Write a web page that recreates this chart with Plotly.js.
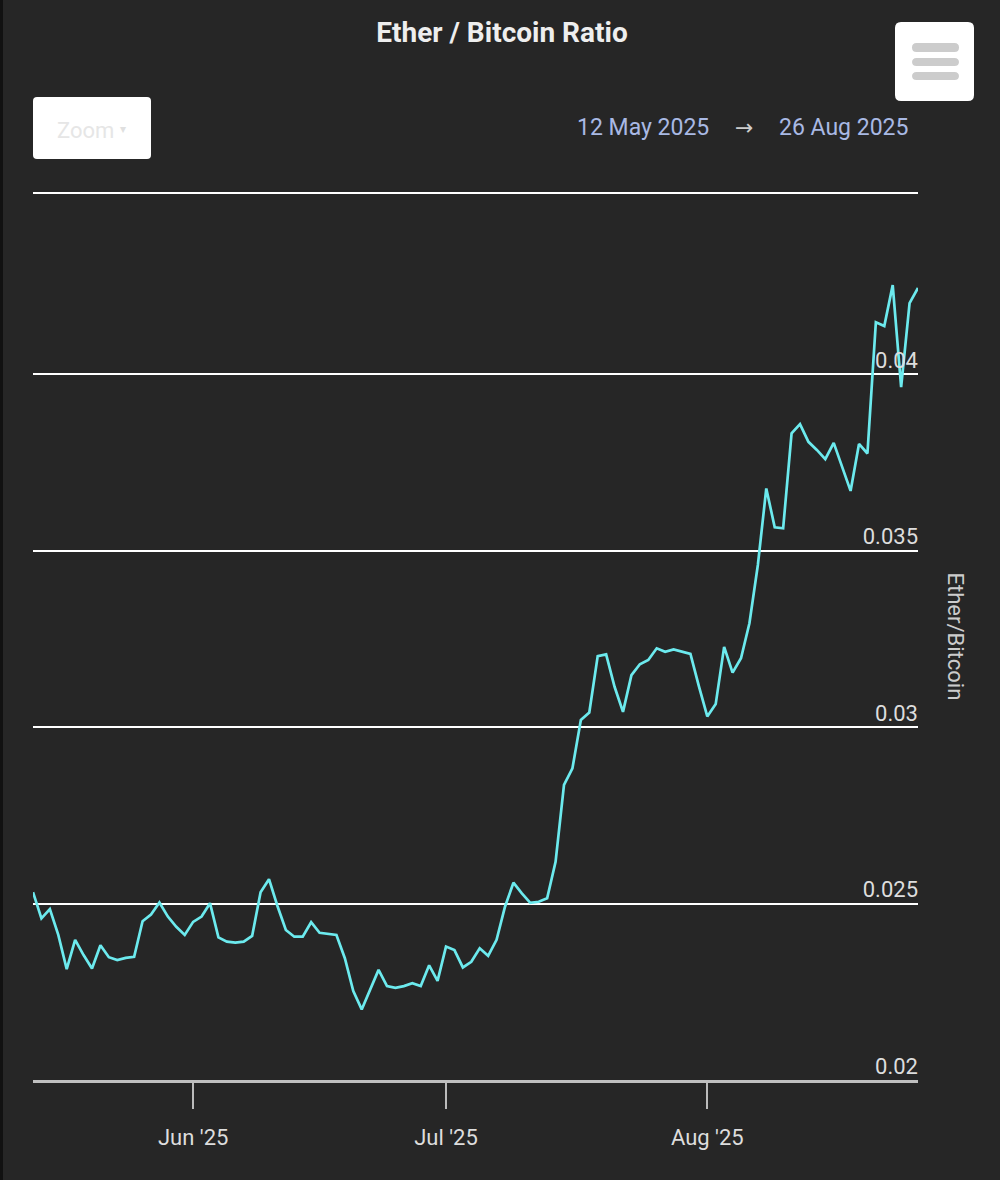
<!DOCTYPE html>
<html>
<head>
<meta charset="utf-8">
<script src="https://cdn.plot.ly/plotly-3.0.1.min.js"></script>
<style>
  html, body { margin: 0; padding: 0; background: #262626; }
  #chart { width: 1000px; height: 1180px; }
</style>
</head>
<body>
<div id="chart"></div>
<script>
// ---- data ----
const dates = [
  "2025-05-13","2025-05-14","2025-05-15","2025-05-16","2025-05-17","2025-05-18","2025-05-19","2025-05-20","2025-05-21","2025-05-22",
  "2025-05-23","2025-05-24","2025-05-25","2025-05-26","2025-05-27","2025-05-28","2025-05-29","2025-05-30","2025-05-31","2025-06-01",
  "2025-06-02","2025-06-03","2025-06-04","2025-06-05","2025-06-06","2025-06-07","2025-06-08","2025-06-09","2025-06-10","2025-06-11",
  "2025-06-12","2025-06-13","2025-06-14","2025-06-15","2025-06-16","2025-06-17","2025-06-18","2025-06-19","2025-06-20","2025-06-21",
  "2025-06-22","2025-06-23","2025-06-24","2025-06-25","2025-06-26","2025-06-27","2025-06-28","2025-06-29","2025-06-30","2025-07-01",
  "2025-07-02","2025-07-03","2025-07-04","2025-07-05","2025-07-06","2025-07-07","2025-07-08","2025-07-09","2025-07-10","2025-07-11",
  "2025-07-12","2025-07-13","2025-07-14","2025-07-15","2025-07-16","2025-07-17","2025-07-18","2025-07-19","2025-07-20","2025-07-21",
  "2025-07-22","2025-07-23","2025-07-24","2025-07-25","2025-07-26","2025-07-27","2025-07-28","2025-07-29","2025-07-30","2025-07-31",
  "2025-08-01","2025-08-02","2025-08-03","2025-08-04","2025-08-05","2025-08-06","2025-08-07","2025-08-08","2025-08-09","2025-08-10",
  "2025-08-11","2025-08-12","2025-08-13","2025-08-14","2025-08-15","2025-08-16","2025-08-17","2025-08-18","2025-08-19","2025-08-20",
  "2025-08-21","2025-08-22","2025-08-23","2025-08-24","2025-08-25","2025-08-26"
];
const ethBtc = [
  0.02532, 0.02458, 0.02484, 0.02411, 0.02314, 0.02397, 0.02354, 0.02316, 0.02382, 0.02348,
  0.02340, 0.02346, 0.02349, 0.02450, 0.02469, 0.02503, 0.02463, 0.02434, 0.02411, 0.02448,
  0.02463, 0.02501, 0.02404, 0.02392, 0.02389, 0.02392, 0.02408, 0.02532, 0.02569, 0.02493,
  0.02425, 0.02406, 0.02406, 0.02447, 0.02417, 0.02413, 0.02411, 0.02345, 0.02252, 0.02200,
  0.02258, 0.02312, 0.02266, 0.02261, 0.02266, 0.02274, 0.02266, 0.02325, 0.02281, 0.02378,
  0.02368, 0.02319, 0.02335, 0.02373, 0.02352, 0.02397, 0.02491, 0.02559, 0.02529, 0.02502,
  0.02505, 0.02515, 0.02618, 0.02836, 0.02883, 0.03020, 0.03041, 0.03201, 0.03206, 0.03114,
  0.03043, 0.03147, 0.03178, 0.03190, 0.03223, 0.03213, 0.03220, 0.03213, 0.03207, 0.03116,
  0.03030, 0.03065, 0.03227, 0.03154, 0.03195, 0.03294, 0.03459, 0.03676, 0.03566, 0.03563,
  0.03832, 0.03858, 0.03808, 0.03785, 0.03759, 0.03805, 0.03737, 0.03669, 0.03802, 0.03775,
  0.04147, 0.04136, 0.04252, 0.03963, 0.04201, 0.04244
];
const xTickVals = ["2025-06-01", "2025-07-01", "2025-08-01"];
const xTickText = ["Jun '25", "Jul '25", "Aug '25"];
const yTickVals = [0.02, 0.025, 0.03, 0.035, 0.04];
const yTickText = ["0.02", "0.025", "0.03", "0.035", "0.04"];
const rangeFrom = "12 May 2025";
const rangeTo = "26 Aug 2025";

// ---- layout helpers (pixel-based UI decorations) ----
const PL = 33, PR = 918, PT = 193, PB = 1080;
const PW = PR - PL, PH = PB - PT;
function px(x) { return (x - PL) / PW; }
function py(y) { return (PB - y) / PH; }
// rounded rect in image pixel coords -> path relative to anchor (paper 0,1 = px 33,193)
function rr(x0, y0, x1, y1, r) {
  const X = v => (v - PL).toFixed(1), Y = v => (PT - v).toFixed(1);
  return `M${X(x0 + r)},${Y(y0)} L${X(x1 - r)},${Y(y0)} Q${X(x1)},${Y(y0)} ${X(x1)},${Y(y0 + r)} ` +
         `L${X(x1)},${Y(y1 - r)} Q${X(x1)},${Y(y1)} ${X(x1 - r)},${Y(y1)} ` +
         `L${X(x0 + r)},${Y(y1)} Q${X(x0)},${Y(y1)} ${X(x0)},${Y(y1 - r)} ` +
         `L${X(x0)},${Y(y0 + r)} Q${X(x0)},${Y(y0)} ${X(x0 + r)},${Y(y0)} Z`;
}
function pshape(path, color) {
  return { type: 'path', xref: 'paper', yref: 'paper', xsizemode: 'pixel', ysizemode: 'pixel',
           xanchor: 0, yanchor: 1, path: path, fillcolor: color, line: { width: 0 }, layer: 'above' };
}

const FONT = 'Roboto, "Open Sans", sans-serif';

const trace = {
  type: 'scatter', mode: 'lines', x: dates, y: ethBtc,
  line: { color: '#6ceaee', width: 2.7 },
  hoverinfo: 'x+y'
};

const layout = {
  width: 1000, height: 1180,
  paper_bgcolor: '#262626', plot_bgcolor: '#262626',
  margin: { l: PL, r: 1000 - PR, t: PT, b: 1180 - PB, pad: 0 },
  showlegend: false,
  font: { family: FONT, color: '#dddddd' },
  title: {
    text: '<b>Ether / Bitcoin Ratio</b>',
    font: { family: FONT, size: 28, color: '#eeeeee' },
    xref: 'container', yref: 'container', x: 0.502, y: 1 - 32 / 1180,
    xanchor: 'center', yanchor: 'middle'
  },
  xaxis: {
    type: 'date', range: ['2025-05-13', '2025-08-26'],
    tickvals: xTickVals, ticktext: xTickText,
    ticks: 'outside', ticklen: 26, tickwidth: 2, tickcolor: '#bbbbbb',
    ticklabelstandoff: 10,
    showgrid: false, zeroline: false,
    showline: true, linecolor: '#c0c0c0', linewidth: 3,
    tickfont: { family: FONT, size: 22, color: '#dddddd' },
    fixedrange: true
  },
  yaxis: {
    side: 'right', range: [0.02, 0.04513],
    tickvals: yTickVals, ticktext: yTickText,
    ticklabelposition: 'inside', ticklabelshift: -14, ticklabelstandoff: -3, ticks: '',
    showgrid: true, gridcolor: '#ffffff', gridwidth: 2,
    zeroline: false, showline: false,
    tickfont: { family: FONT, size: 22, color: '#dddddd' },
    fixedrange: true
  },
  shapes: [
    // top frame line of the plot area
    { type: 'line', xref: 'paper', yref: 'paper', x0: 0, x1: 1, y0: 1, y1: 1,
      line: { color: '#ffffff', width: 2 }, layer: 'below' },
    // hamburger menu button
    pshape(rr(895, 22, 974, 101, 6), '#ffffff'),
    pshape(rr(912, 43, 959, 52, 4.5), '#cccccc'),
    pshape(rr(912, 58, 959, 66, 4.5), '#cccccc'),
    pshape(rr(912, 72, 959, 80, 4.5), '#cccccc'),
    // zoom button
    pshape(rr(33, 97, 151, 159, 4), '#ffffff'),
    // dark left edge
    pshape(rr(0, 0, 3, 1180, 0), '#111111')
  ],
  annotations: [
    { xref: 'paper', yref: 'paper', x: px(85), y: py(130), xanchor: 'center', yanchor: 'middle',
      text: 'Zoom', showarrow: false, font: { family: FONT, size: 22, color: '#e6e6e6' } },
    { xref: 'paper', yref: 'paper', x: px(123), y: py(129), xanchor: 'center', yanchor: 'middle',
      text: '▾', showarrow: false, font: { family: FONT, size: 12, color: '#e0e0e0' } },
    { xref: 'paper', yref: 'paper', x: px(643), y: py(128), xanchor: 'center', yanchor: 'middle',
      text: rangeFrom, showarrow: false, font: { family: FONT, size: 23, color: '#a9b9e4' } },
    { xref: 'paper', yref: 'paper', x: px(744), y: py(127), xanchor: 'center', yanchor: 'middle',
      text: '→', showarrow: false, font: { family: '"DejaVu Sans", sans-serif', size: 22, color: '#cccccc' } },
    { xref: 'paper', yref: 'paper', x: px(844), y: py(128), xanchor: 'center', yanchor: 'middle',
      text: rangeTo, showarrow: false, font: { family: FONT, size: 23, color: '#a9b9e4' } },
    { xref: 'paper', yref: 'paper', x: px(955), y: 0.5, xanchor: 'center', yanchor: 'middle',
      text: 'Ether/Bitcoin', textangle: 90, showarrow: false,
      font: { family: FONT, size: 22, color: '#cccccc' } }
  ]
};

Plotly.newPlot('chart', [trace], layout, { displayModeBar: false, staticPlot: false, responsive: false });
</script>
</body>
</html>
